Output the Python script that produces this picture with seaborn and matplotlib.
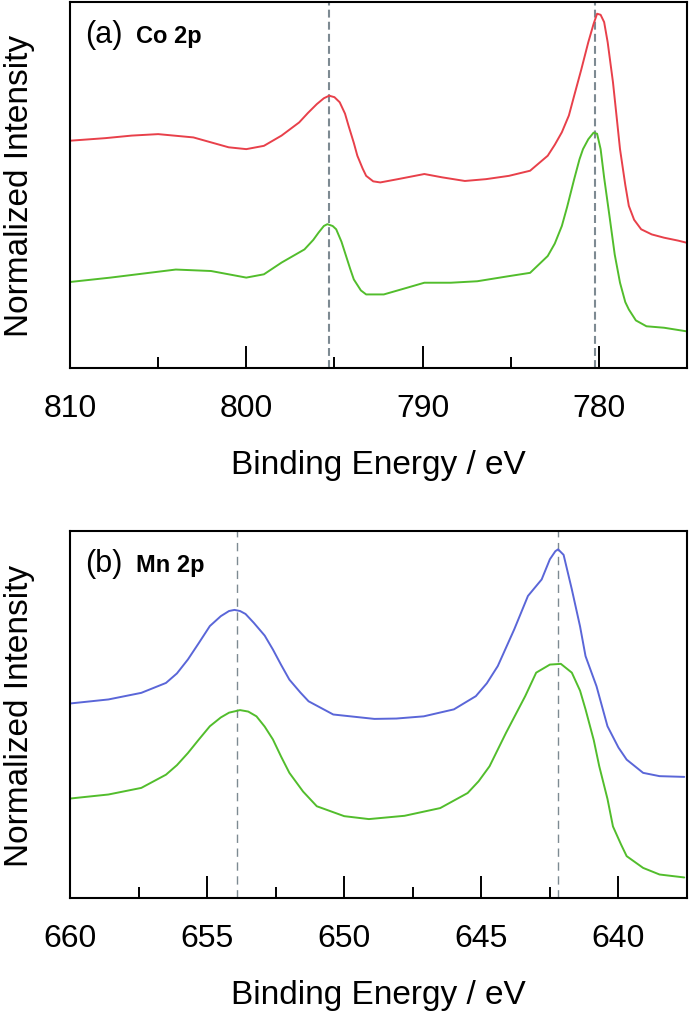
import numpy as np
import pandas as pd
import matplotlib.pyplot as plt
import seaborn as sns
from matplotlib.ticker import MultipleLocator

# Co 2p spectra (normalized to the axis height)
co_energy_red = [810, 808, 806.5, 805, 803, 801, 800, 799, 798, 797, 796.5, 796, 795.6, 795.3, 795.0,
                 794.7, 794.4, 794.2, 793.9, 793.7, 793.4, 793.2, 792.8, 792.4, 791.4, 789.9, 788.9,
                 787.6, 786.4, 785.1, 783.9, 782.9, 782.5, 782.1, 781.7, 781.4, 781.0, 780.6, 780.3,
                 780.1, 779.9, 779.7, 779.5, 779.2, 779.0, 778.8, 778.5, 778.3, 778.0, 777.6, 777.0,
                 776.3, 775.5, 775]
co_red = [0.621, 0.628, 0.635, 0.639, 0.630, 0.603, 0.598, 0.607, 0.635, 0.671, 0.697, 0.721, 0.737,
          0.744, 0.740, 0.726, 0.695, 0.662, 0.615, 0.580, 0.545, 0.525, 0.510, 0.507, 0.516, 0.530,
          0.521, 0.511, 0.516, 0.525, 0.539, 0.580, 0.610, 0.644, 0.690, 0.744, 0.815, 0.890, 0.940,
          0.968, 0.965, 0.945, 0.890, 0.781, 0.690, 0.598, 0.500, 0.443, 0.405, 0.379, 0.365,
          0.356, 0.348, 0.342]

co_energy_green = [810, 807.7, 804, 802, 800, 799, 798, 796.7, 796.2, 795.9, 795.6, 795.4, 795.1,
                   794.9, 794.6, 794.4, 794.1, 793.9, 793.5, 793.2, 792.2, 790.9, 789.9, 788.4,
                   786.9, 785.1, 783.9, 782.9, 782.5, 782.1, 781.8, 781.4, 781.1, 780.9, 780.6,
                   780.3, 780.1, 779.9, 779.7, 779.4, 779.1, 778.8, 778.5, 778.3, 777.9, 777.3,
                   776.3, 775]
co_green = [0.235, 0.247, 0.269, 0.265, 0.247, 0.256, 0.288, 0.324, 0.350, 0.370, 0.388, 0.393, 0.388,
            0.379, 0.345, 0.315, 0.270, 0.242, 0.212, 0.201, 0.201, 0.219, 0.233, 0.233, 0.237,
            0.251, 0.260, 0.306, 0.340, 0.388, 0.440, 0.516, 0.570, 0.598, 0.625, 0.643, 0.640,
            0.598, 0.520, 0.416, 0.310, 0.233, 0.180, 0.160, 0.130, 0.114, 0.110, 0.100]

co_peaks = [795.3, 780.2]

# Mn 2p spectra
mn_energy_blue = [660, 658.6, 657.4, 656.5, 656.1, 655.7, 655.3, 654.9, 654.5, 654.2, 654.0, 653.8,
                  653.6, 653.3, 652.9, 652.6, 652.3, 652.0, 651.6, 651.3, 650.4, 648.9, 648.1, 647.1,
                  646.0, 645.2, 644.8, 644.4, 643.8, 643.3, 642.8, 642.5, 642.3, 642.2, 642.0, 641.7,
                  641.4, 641.2, 640.8, 640.4, 640.0, 639.7, 639.1, 638.5, 637.6]
mn_blue = [0.530, 0.541, 0.559, 0.586, 0.612, 0.650, 0.695, 0.741, 0.768, 0.782, 0.785, 0.782, 0.774,
           0.750, 0.715, 0.677, 0.635, 0.595, 0.560, 0.536, 0.500, 0.488, 0.489, 0.495, 0.514,
           0.550, 0.585, 0.632, 0.732, 0.823, 0.868, 0.923, 0.945, 0.950, 0.935, 0.841, 0.740,
           0.659, 0.577, 0.468, 0.410, 0.377, 0.341, 0.332, 0.330]

mn_energy_green = [660, 658.6, 657.4, 656.5, 656.1, 655.7, 655.3, 654.9, 654.5, 654.2, 653.8, 653.5,
                   653.2, 652.9, 652.6, 652.3, 652.0, 651.5, 651.0, 650.0, 649.1, 647.8, 646.5,
                   645.5, 645.1, 644.7, 644.1, 643.4, 643.0, 642.5, 642.1, 641.7, 641.4, 641.2,
                   640.9, 640.7, 640.4, 640.2, 639.9, 639.7, 639.1, 638.5, 637.6]
mn_green = [0.271, 0.282, 0.300, 0.336, 0.362, 0.395, 0.432, 0.468, 0.492, 0.505, 0.512, 0.508,
            0.495, 0.467, 0.432, 0.385, 0.341, 0.290, 0.250, 0.223, 0.215, 0.224, 0.245, 0.286,
            0.318, 0.359, 0.450, 0.550, 0.614, 0.636, 0.638, 0.614, 0.565, 0.514, 0.430, 0.359,
            0.270, 0.195, 0.145, 0.114, 0.082, 0.064, 0.056]

mn_peaks = [653.9, 642.2]

sns.set_style("ticks")
plt.rcParams['font.family'] = ['Liberation Sans', 'DejaVu Sans']
plt.rcParams['text.color'] = 'black'
plt.rcParams['axes.labelcolor'] = 'black'
plt.rcParams['xtick.color'] = 'black'

fig = plt.figure(figsize=(6.91, 10.20), dpi=100)
ax1 = fig.add_axes([70/691, 1-369/1020, 617/691, 366/1020])
ax2 = fig.add_axes([70/691, 1-899/1020, 617/691, 367/1020])

red, green, blue = "#e8404a", "#52bd2c", "#5a66d8"
dash_col = "#7d8a92"

sns.lineplot(x=co_energy_red, y=co_red, ax=ax1, color=red, lw=1.4)
sns.lineplot(x=co_energy_green, y=co_green, ax=ax1, color=green, lw=1.4)
for p in co_peaks:
    ax1.axvline(p, color=dash_col, lw=1.5, ls=(0, (3.8, 2)), zorder=0)

sns.lineplot(x=mn_energy_blue, y=mn_blue, ax=ax2, color=blue, lw=1.4)
sns.lineplot(x=mn_energy_green, y=mn_green, ax=ax2, color=green, lw=1.4)
for p in mn_peaks:
    ax2.axvline(p, color=dash_col, lw=1.0, ls=(0, (6, 4)), zorder=0)

ax1.set_xlim(810, 775)
ax1.xaxis.set_major_locator(MultipleLocator(10))
ax1.xaxis.set_minor_locator(MultipleLocator(5))
ax2.set_xlim(660, 637.5)
ax2.xaxis.set_major_locator(MultipleLocator(5))
ax2.xaxis.set_minor_locator(MultipleLocator(2.5))

for ax, tag, name in [(ax1, "(a)", "Co 2p"), (ax2, "(b)", "Mn 2p")]:
    ax.set_ylim(0, 1)
    ax.set_yticks([])
    ax.tick_params(axis='x', which='major', direction='in', length=15.5, width=1.4, pad=18, labelsize=23)
    ax.tick_params(axis='x', which='minor', direction='in', length=8, width=1.4)
    for s in ax.spines.values():
        s.set_linewidth(1.5)
        s.set_color("black")
    ax.set_xlabel("Binding Energy / eV", fontsize=24, labelpad=19)
    ax.set_ylabel("Normalized Intensity", fontsize=24, labelpad=25)
    ax.text(0.024, 0.89, tag, transform=ax.transAxes, fontsize=22, va='baseline', ha='left')
    ax.text(0.107, 0.89, name, transform=ax.transAxes, fontsize=17, fontweight='bold',
            va='baseline', ha='left')

fig.savefig("out.png", dpi=100)
